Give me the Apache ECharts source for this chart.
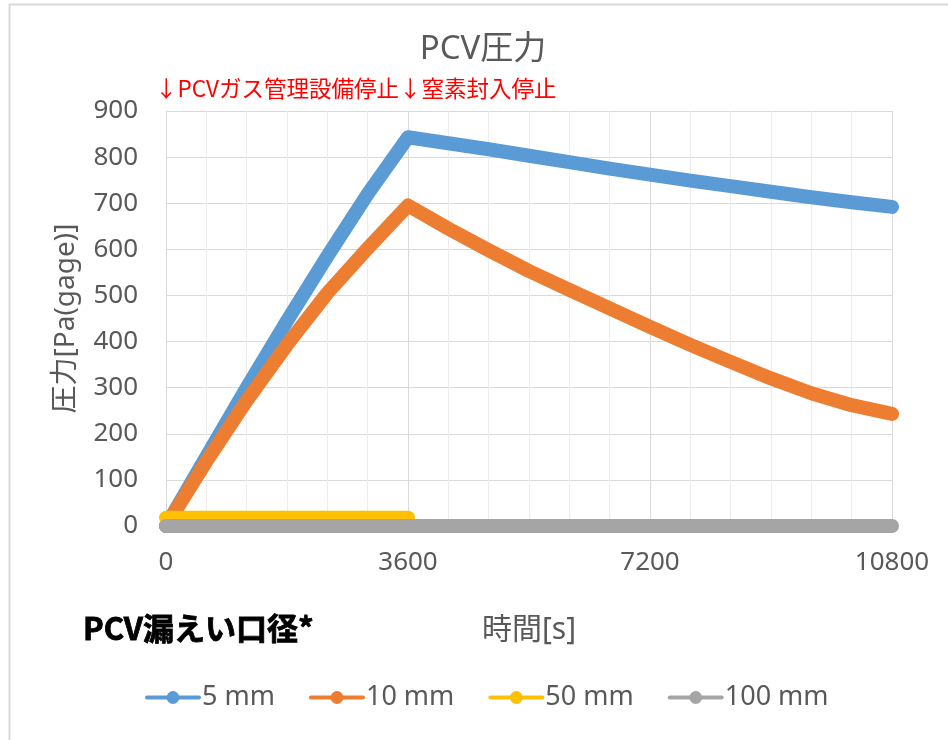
<!DOCTYPE html>
<html>
<head>
<meta charset="utf-8">
<script src="https://cdn.jsdelivr.net/npm/echarts@6/dist/echarts.min.js"></script>
<style>html,body{margin:0;padding:0;background:#fff;}#c{width:948px;height:740px;}</style>
</head>
<body>
<div id="c"></div>
<script>
const times = [0,600,1200,1800,2400,3000,3600,4200,4800,5400,6000,6600,7200,7800,8400,9000,9600,10200,10800];
const seriesNames = ['5 mm','10 mm','50 mm','100 mm'];
const mm5   = [0,150,300,445,585,720,843,830,817,803,789,775,762,749,737,725,713,702,692];
const mm10  = [0,140,272,393,505,602,695,645,598,553,512,472,432,393,356,320,288,262,243];
const mm50  = [18,18,18,18,18,18,18,null,null,null,null,null,null,null,null,null,null,null,null];
const mm100 = [0,0,0,0,0,0,0,0,0,0,0,0,0,0,0,0,0,0,0];
const xTicks = [0,3600,7200,10800];
const yTicks = [0,100,200,300,400,500,600,700,800,900];
const colors = ['#5B9BD5','#ED7D31','#FFC000','#A5A5A5'];
const titleText = 'PCV圧力';
const noteText = '↓PCVガス管理設備停止↓窒素封入停止';
const legendTitle = 'PCV漏えい口径*';
const xName = '時間[s]';
const yName = '圧力[Pa(gage)]';

const FONT = "'Noto Sans', 'Noto Sans CJK JP', sans-serif";
const TXT = '#595959';

function pairs(vals){ return times.map((t,i)=> vals[i]===null ? null : [t, vals[i]]).filter(p=>p!==null); }
const allVals = [mm5, mm10, mm50, mm100];

const chart = echarts.init(document.getElementById('c'));
chart.setOption({
  animation:false,
  backgroundColor:'#fff',
  color: colors,
  grid:{left:166, right:56, top:111, bottom:214, containLabel:false},
  xAxis:{
    type:'value', min:xTicks[0], max:xTicks[xTicks.length-1], interval:xTicks[1]-xTicks[0],
    name:xName, nameLocation:'middle', nameGap:89,
    nameTextStyle:{fontFamily:FONT, fontSize:30, color:TXT},
    axisLine:{show:false}, axisTick:{show:false},
    axisLabel:{fontFamily:FONT, fontSize:26, color:TXT, margin:24, formatter:(v)=>String(v)},
    splitLine:{show:true, lineStyle:{color:'#d9d9d9', width:1}},
    minorTick:{show:false, splitNumber:6},
    minorSplitLine:{show:true, lineStyle:{color:'#ececec', width:1}}
  },
  yAxis:{
    type:'value', min:yTicks[0], max:yTicks[yTicks.length-1], interval:yTicks[1]-yTicks[0],
    name:yName, nameLocation:'middle', nameGap:86, nameRotate:90,
    nameTextStyle:{fontFamily:FONT, fontSize:28, color:TXT},
    axisLine:{show:true, lineStyle:{color:'#d9d9d9'}}, axisTick:{show:false},
    axisLabel:{fontFamily:FONT, fontSize:26, color:TXT, margin:28, formatter:(v)=>String(v)},
    splitLine:{show:true, lineStyle:{color:'#d9d9d9', width:1}}
  },
  legend:{
    bottom:24, left:140, itemWidth:52, itemHeight:16, itemGap:34,
    textStyle:{fontFamily:FONT, fontSize:27, color:TXT, padding:[0,0,0,-2]},
    lineStyle:{width:4},
    data: seriesNames
  },
  series: seriesNames.map((n,i)=>({
    name:n, type:'line', data:pairs(allVals[i]),
    symbol:'circle', symbolSize:8, showSymbol:false,
    lineStyle:{width:14, color:colors[i], cap:'round', join:'round'},
    itemStyle:{color:colors[i]},
    emphasis:{disabled:true}
  })),
  graphic:[
    {type:'rect', left:7, top:2, shape:{width:960, height:760}, style:{fill:'none', stroke:'#d9d9d9', lineWidth:2}, silent:true},
    {type:'text', x:483, y:50, style:{text:titleText, fontFamily:FONT, fontSize:33, fill:TXT, align:'center', verticalAlign:'middle'}},
    {type:'text', x:155, y:88, style:{text:noteText, fontFamily:"'Noto Sans CJK JP', sans-serif", fontSize:22.5, fill:'#FF0000', align:'left', verticalAlign:'middle'}},
    {type:'text', x:83, y:628, style:{text:legendTitle, fontFamily:"'Noto Sans CJK JP', sans-serif", fontSize:31, fontWeight:'bold', fill:'#000', stroke:'#000', lineWidth:0.8, align:'left', verticalAlign:'middle'}}
  ]
});
</script>
</body>
</html>
